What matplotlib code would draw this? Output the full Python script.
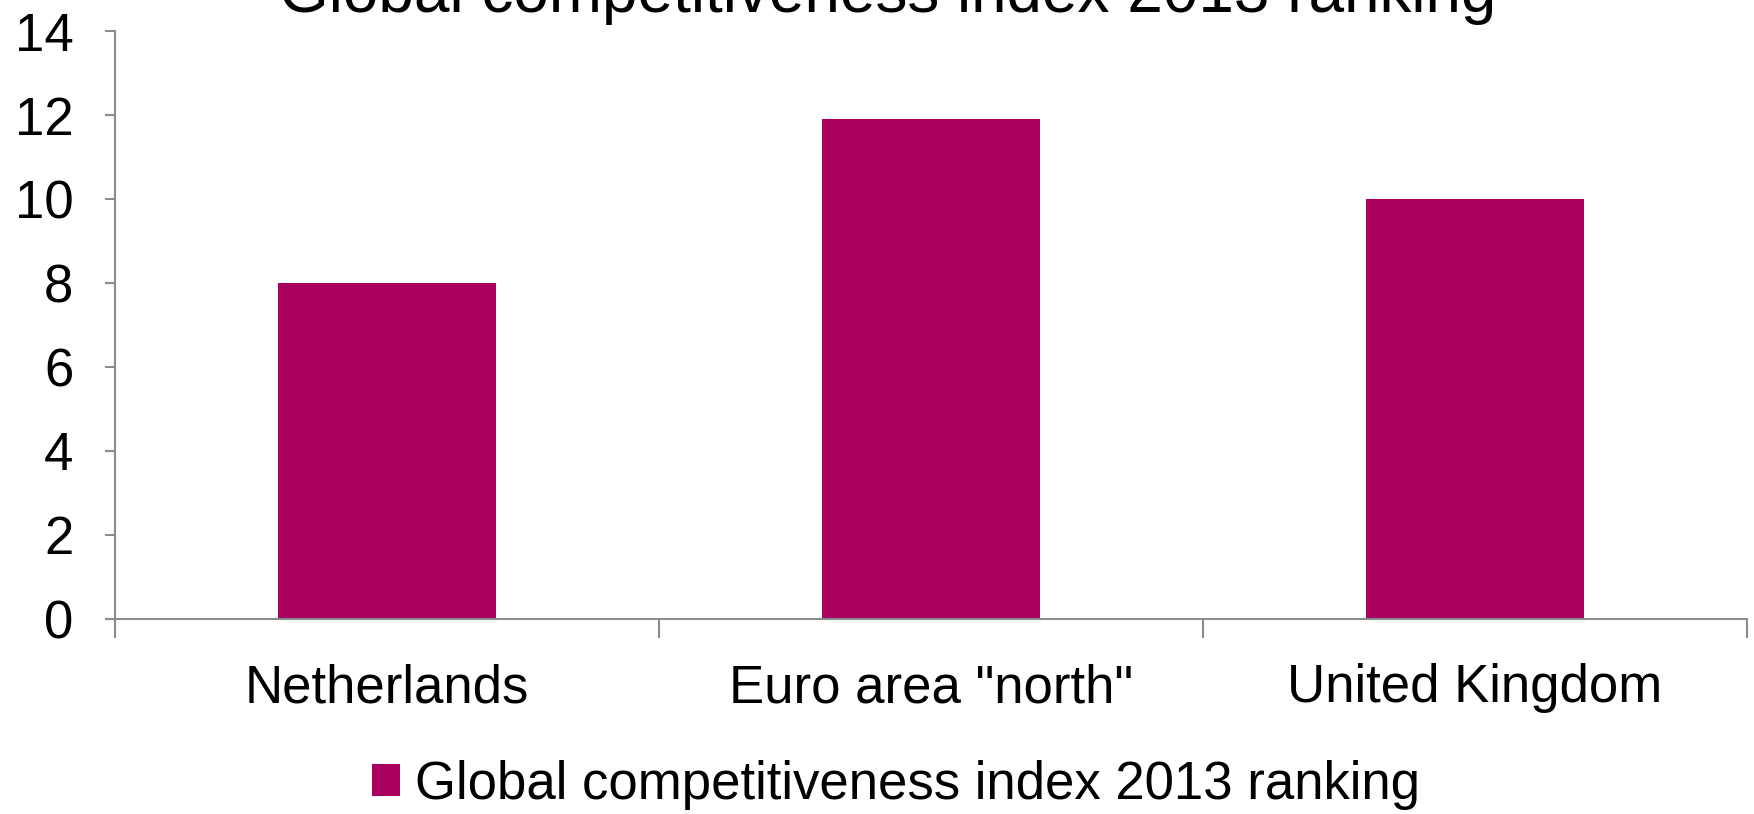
import matplotlib.pyplot as plt
from matplotlib.patches import Patch

plt.rcParams['font.family'] = ['Liberation Sans', 'DejaVu Sans']

categories = ['Netherlands', 'Euro area "north"', 'United Kingdom']
ranking = [8, 11.9, 10]
series_name = 'Global competitiveness index 2013 ranking'
bar_color = '#AA005F'
axis_color = '#8C8C8C'


def main():
    fig = plt.figure(figsize=(17.54, 8.14), dpi=100)
    ax = fig.add_axes([0.0656, 0.2396, 0.9304, 0.7223])

    x = list(range(len(categories)))
    ax.bar(x, ranking, width=0.4, color=bar_color, zorder=2)

    ax.set_xlim(-0.5, len(categories) - 0.5)
    ax.set_ylim(0, 14)
    ax.set_yticks(range(0, 15, 2))
    ax.set_xticks(x)
    ax.set_xticklabels(categories)
    # category separators as minor ticks below the axis
    ax.set_xticks([i - 0.5 for i in range(len(categories) + 1)], minor=True)

    for side in ('top', 'right'):
        ax.spines[side].set_visible(False)
    for side in ('left', 'bottom'):
        ax.spines[side].set_color(axis_color)
        ax.spines[side].set_linewidth(1.5)

    ax.tick_params(axis='y', labelsize=38, length=7, width=1.5,
                   color=axis_color, pad=23)
    ax.tick_params(axis='x', which='major', labelsize=38, length=0, pad=32)
    ax.tick_params(axis='x', which='minor', length=14, width=1.5,
                   color=axis_color)

    fig.text(0.506, 0.985, series_name, fontsize=46, ha='center',
             va='baseline')

    handle = Patch(facecolor=bar_color, edgecolor='none')
    fig.legend([handle], [series_name], loc='center',
               bbox_to_anchor=(0.511, 0.036), frameon=False, fontsize=38,
               handlelength=0.53, handleheight=0.53, handletextpad=0.28,
               borderpad=0, borderaxespad=0)

    fig.savefig('out.png', dpi=100)


if __name__ == "__main__":
    main()
